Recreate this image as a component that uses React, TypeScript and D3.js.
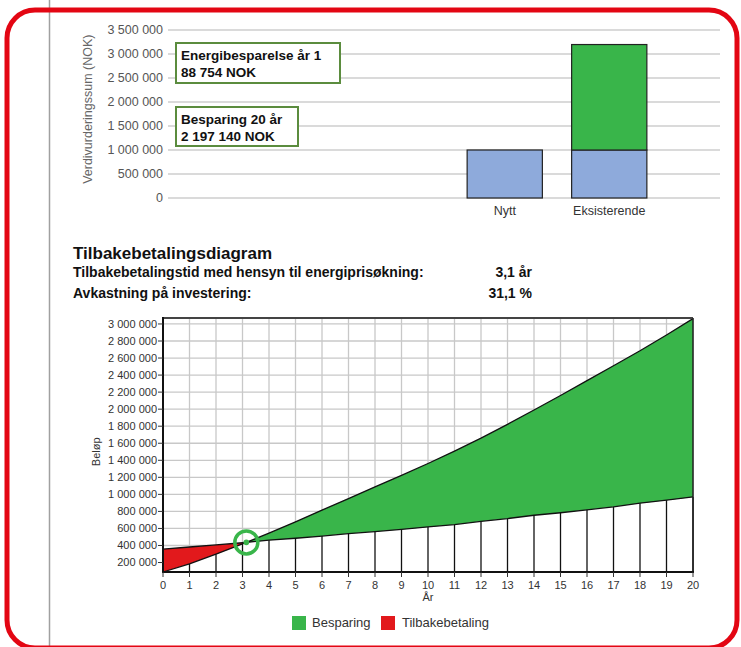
import React from "react";
import * as d3 from "d3";

const W = 741;
const H = 647;
const font = "'Liberation Sans', Arial, sans-serif";

// top chart data
const barCategories = ["Nytt", "Eksisterende"];
const barBase = [1000000, 1000000];
const barSaving = [0, 2197140];
const barTicks = [0, 500000, 1000000, 1500000, 2000000, 2500000, 3000000, 3500000];

// payback chart data
const years = d3.range(0, 21);
const investment = [358000, 382000, 406000, 432000, 462000, 485000, 510000, 540000, 563000, 588000, 618000, 645000, 684000, 716000, 755000, 784000, 819000, 854000, 897000, 932000, 970000];
const savings = [88754, 185000, 298000, 418000, 545000, 678000, 815000, 950000, 1088000, 1222000, 1362000, 1508000, 1660000, 1822000, 1990000, 2160000, 2335000, 2510000, 2685000, 2870000, 3063000];
const beloepTicks = d3.range(200000, 3000001, 200000);

const fmt = (v: number) => d3.format(",")(v).replace(/,/g, " ");

const green = "#39b54a";
const red = "#e2191c";
const blue = "#8eaadb";

export default function App() {
  // --- top bar chart
  const yTop = d3.scaleLinear().domain([0, 3500000]).range([198, 30]);
  const xTop = d3
    .scaleBand()
    .domain(barCategories)
    .range([457, 657])
    .paddingInner(0.28)
    .paddingOuter(0.097);

  // --- payback chart
  const x = d3.scaleLinear().domain([0, 20]).range([163, 693]);
  const y = d3.scaleLinear().domain([88754, 3070000]).range([572, 318]);

  // crossing point (payback)
  let ci = 0;
  while (ci < years.length - 1 && savings[ci + 1] < investment[ci + 1]) ci++;
  const d0 = investment[ci] - savings[ci];
  const d1 = savings[ci + 1] - investment[ci + 1];
  const t = d0 / (d0 + d1);
  const cx = years[ci] + t;
  const cy = investment[ci] + t * (investment[ci + 1] - investment[ci]);

  type P = [number, number];
  const A: P[] = years.map((yr, i) => [yr, investment[i]]);
  const B: P[] = years.map((yr, i) => [yr, savings[i]]);
  const cross: P = [cx, cy];
  const line = d3
    .line<P>()
    .x((d) => x(d[0]))
    .y((d) => y(d[1]));

  const redPoly = [...A.slice(0, ci + 1), cross, ...B.slice(0, ci + 1).reverse()];
  const greenPoly = [cross, ...B.slice(ci + 1), ...A.slice(ci + 1).reverse()];
  const minLine: P[] = [...B.slice(0, ci + 1), cross, ...A.slice(ci + 1)];
  const whiteArea = d3
    .area<P>()
    .x((d) => x(d[0]))
    .y0(y(88754))
    .y1((d) => y(d[1]));

  return (
    <svg width={W} height={H} style={{ position: "absolute", left: 0, top: 0 }} fontFamily={font}>
      <rect width={W} height={H} fill="#fff" />
      <line x1={49.5} x2={49.5} y1={0} y2={H} stroke="#a0a0a0" strokeWidth={1.5} />
      <rect x={7} y={10} width={730} height={638} rx={28} fill="none" stroke="#e30613" strokeWidth={5} />

      {/* top chart */}
      <g>
        {barTicks.map((v) => (
          <g key={v}>
            <line x1={168} x2={720} y1={yTop(v)} y2={yTop(v)} stroke="#dadada" strokeWidth={2} />
            <text x={163} y={yTop(v)} dy="0.35em" textAnchor="end" fontSize={12.5} fill="#555">
              {fmt(v)}
            </text>
          </g>
        ))}
        <text
          transform={`translate(92 ${yTop(1850000)}) rotate(-90)`}
          textAnchor="middle"
          fontSize={12.5}
          fill="#666"
        >
          Verdivurderingssum (NOK)
        </text>
        {barCategories.map((c, i) => (
          <g key={c}>
            <rect
              x={xTop(c)}
              y={yTop(barBase[i])}
              width={xTop.bandwidth()}
              height={yTop(0) - yTop(barBase[i])}
              fill={blue}
              stroke="#222"
              strokeWidth={1.2}
            />
            {barSaving[i] > 0 && (
              <rect
                x={xTop(c)}
                y={yTop(barBase[i] + barSaving[i])}
                width={xTop.bandwidth()}
                height={yTop(barBase[i]) - yTop(barBase[i] + barSaving[i])}
                fill={green}
                stroke="#222"
                strokeWidth={1.2}
              />
            )}
            <text x={(xTop(c) as number) + xTop.bandwidth() / 2} y={215} textAnchor="middle" fontSize={12.5} fill="#333">
              {c}
            </text>
          </g>
        ))}
        <rect x={176} y={43} width={164} height={40} fill="#fff" stroke="#5b8c3e" strokeWidth={2} />
        <text x={181} y={60} fontSize={13.5} fontWeight="bold" fill="#111">Energibesparelse år 1</text>
        <text x={181} y={77} fontSize={13.5} fontWeight="bold" fill="#111">88 754 NOK</text>
        <rect x={176} y={107} width={122} height={39} fill="#fff" stroke="#5b8c3e" strokeWidth={2} />
        <text x={181} y={124} fontSize={13.5} fontWeight="bold" fill="#111">Besparing 20 år</text>
        <text x={181} y={141} fontSize={13.5} fontWeight="bold" fill="#111">2 197 140 NOK</text>
      </g>

      {/* headings */}
      <text x={73} y={259} fontSize={17} fontWeight="bold" fill="#111">Tilbakebetalingsdiagram</text>
      <text x={73} y={277} fontSize={14} fontWeight="bold" fill="#111">Tilbakebetalingstid med hensyn til energiprisøkning:</text>
      <text x={532} y={277} fontSize={14} fontWeight="bold" fill="#111" textAnchor="end">3,1 år</text>
      <text x={73} y={298} fontSize={14} fontWeight="bold" fill="#111">Avkastning på investering:</text>
      <text x={532} y={298} fontSize={14} fontWeight="bold" fill="#111" textAnchor="end">31,1 %</text>

      {/* payback chart */}
      <g>
        {beloepTicks.map((v) => (
          <line key={v} x1={163} x2={693} y1={y(v)} y2={y(v)} stroke="#c8c8c8" strokeWidth={1.3} />
        ))}
        {years.map((yr) => (
          <line key={yr} x1={x(yr)} x2={x(yr)} y1={318} y2={572} stroke="#c8c8c8" strokeWidth={1.3} />
        ))}
        <path d={whiteArea(minLine) as string} fill="#fff" />
        <path d={(line(redPoly) as string) + "Z"} fill={red} />
        <path d={(line(greenPoly) as string) + "Z"} fill={green} />
        <path d={line(A) as string} fill="none" stroke="#111" strokeWidth={1.3} />
        <path d={line(B) as string} fill="none" stroke="#111" strokeWidth={1.3} />
        {years.map((yr, i) => (
          <line
            key={yr}
            x1={x(yr)}
            x2={x(yr)}
            y1={572}
            y2={y(Math.min(investment[i], savings[i]))}
            stroke="#111"
            strokeWidth={1.3}
          />
        ))}
        <line x1={163} x2={693} y1={318} y2={318} stroke="#444" strokeWidth={2} />
        <line x1={693} x2={693} y1={318} y2={572} stroke="#222" strokeWidth={1.5} />
        <line x1={163} x2={163} y1={317} y2={573} stroke="#111" strokeWidth={2} />
        <line x1={162} x2={694} y1={572} y2={572} stroke="#111" strokeWidth={2} />
        {beloepTicks.map((v) => (
          <g key={v}>
            <line x1={158} x2={163} y1={y(v)} y2={y(v)} stroke="#333" />
            <text x={157} y={y(v)} dy="0.35em" textAnchor="end" fontSize={11} fill="#333">
              {fmt(v)}
            </text>
          </g>
        ))}
        {years.map((yr) => (
          <g key={yr}>
            <line x1={x(yr)} x2={x(yr)} y1={572} y2={577} stroke="#333" />
            <text x={x(yr)} y={589} textAnchor="middle" fontSize={11} fill="#333">
              {yr}
            </text>
          </g>
        ))}
        <text x={x(10)} y={601} textAnchor="middle" fontSize={11} fill="#333">År</text>
        <text transform={`translate(100 ${y(1500000)}) rotate(-90)`} textAnchor="middle" fontSize={11} fill="#333">
          Beløp
        </text>
        <circle cx={x(cx)} cy={y(cy)} r={11.5} fill="none" stroke={green} strokeWidth={3.5} />
        <circle cx={x(cx)} cy={y(cy)} r={2.8} fill={green} />
      </g>

      {/* legend */}
      <rect x={292} y={616} width={14} height={14} fill={green} />
      <text x={312} y={627} fontSize={13} fill="#333">Besparing</text>
      <rect x={381} y={616} width={14} height={14} fill={red} />
      <text x={402} y={627} fontSize={13} fill="#333">Tilbakebetaling</text>
    </svg>
  );
}
